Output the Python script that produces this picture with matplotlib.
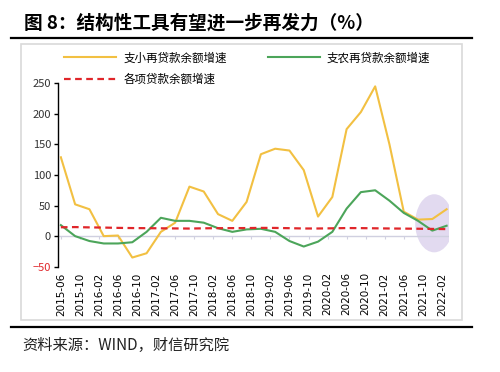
import matplotlib
matplotlib.use("Agg")
from matplotlib import pyplot as plt
from matplotlib.patches import Ellipse, Rectangle
from matplotlib.lines import Line2D

plt.rcParams['font.family'] = ['Noto Sans CJK SC', 'DejaVu Sans']

# quarterly data, months counted from 2015-06
months = list(range(0, 82, 3))
small_loan = [129, 52, 44, 0, 1, -35, -28, 7, 22, 81, 73, 36, 25, 56,
              134, 143, 140, 108, 32, 64, 175, 203, 245, 150, 40, 27, 28, 44]
agri_loan = [18, 0, -8, -12, -12, -10, 7, 30, 25, 25, 22, 13, 7, 11,
             12, 7, -8, -17, -9, 7, 45, 72, 75, 58, 38, 25, 9, 17]
all_loans = [14.5, 14.8, 14.3, 14.0, 13.5, 13.2, 13.0, 12.8, 12.6, 12.4, 12.8, 13.0, 13.1, 13.2,
             13.5, 13.4, 13.0, 12.5, 12.5, 12.8, 13.2, 13.1, 12.8, 12.5, 12.3, 12.1, 11.8, 11.5]
tick_labels = ['2015-06', '2015-10', '2016-02', '2016-06', '2016-10', '2017-02', '2017-06',
               '2017-10', '2018-02', '2018-06', '2018-10', '2019-02', '2019-06', '2019-10',
               '2020-02', '2020-06', '2020-10', '2021-02', '2021-06', '2021-10', '2022-02']
tick_pos = list(range(0, 84, 4))

fig = plt.figure(figsize=(5, 3.72), dpi=100)

# title, rules and source
fig.text(24 / 500, 1 - 23 / 372, '图 8：结构性工具有望进一步再发力（%）', fontsize=13.4,
         fontweight='bold', va='center', ha='left')
fig.add_artist(Line2D([11 / 500, 472 / 500], [1 - 38 / 372] * 2, color='black', lw=1.6))
fig.add_artist(Line2D([11 / 500, 472 / 500], [1 - 327 / 372] * 2, color='black', lw=1.6))
fig.text(22 / 500, 1 - 345 / 372, '资料来源：WIND，财信研究院', fontsize=11,
         va='center', ha='left', color='#222222')
fig.add_artist(Rectangle((21 / 500, 1 - 320 / 372), 441 / 500, 276 / 372,
                         transform=fig.transFigure, fill=False, ec='#d9d9d9', lw=1.2))

ax = fig.add_axes([58 / 500, 1 - 266.7 / 372, 391 / 500, 183.4 / 372])
ymin, ymax = -50, 250
ax.set_ylim(ymin, ymax)
ax.set_xlim(-0.6, 81.5)

ax.add_patch(Ellipse((78.4, 21), 8, 95, color='#e2daf0', lw=0, zorder=1))

ax.axhline(0, color='#d0d0e0', lw=1, zorder=1)
l1, = ax.plot(months, small_loan, color='#F2C042', lw=1.5, zorder=3)
l2, = ax.plot(months, agri_loan, color='#4CA55A', lw=1.5, zorder=3)
l3, = ax.plot(months, all_loans, color='#E0262A', lw=1.6, ls=(0, (3, 2)), zorder=4)

for s in ['top', 'right', 'bottom']:
    ax.spines[s].set_visible(False)
ax.spines['left'].set_linewidth(1.0)

ax.set_yticks([-50, 0, 50, 100, 150, 200, 250])
ax.tick_params(axis='y', labelsize=8, length=3, width=1, colors='black', labelcolor='#333333', pad=2)
for t in ax.get_yticklabels():
    if t.get_text().replace('\u2212', '-') == '-50':
        t.set_color('#E0262A')

ax.set_xticks(tick_pos)
ax.set_xticklabels(tick_labels, rotation=90, fontsize=7.5, family=['DejaVu Sans'])
ax.tick_params(axis='x', length=0, pad=4)

# small tick marks on the zero line
sec = ax.secondary_xaxis((0 - ymin) / (ymax - ymin))
sec.set_xticks(tick_pos)
sec.set_xticklabels([])
sec.tick_params(axis='x', length=2.5, color='#d0d0e0')
sec.spines['bottom'].set_visible(False)

fig.legend([l1, l3, l2], ['支小再贷款余额增速', '各项贷款余额增速', '支农再贷款余额增速'],
           ncol=2, loc='upper left', bbox_to_anchor=(54 / 500, 1 - 41 / 372),
           frameon=False, fontsize=8.3, handlelength=4.5, columnspacing=3.6,
           labelspacing=0.75, handletextpad=0.6)

fig.savefig('out.png', dpi=100)
